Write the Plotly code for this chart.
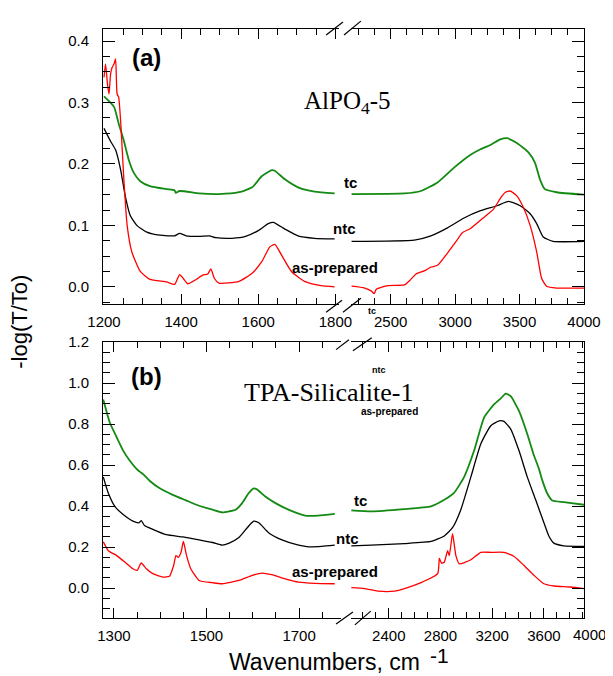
import plotly.graph_objects as go

# ---------------- Panel (a): AlPO4-5 ----------------
# low-wavenumber segment (1200-1800 cm-1)
A_TC_LO_WN = [1200, 1226, 1238, 1251, 1264, 1277, 1294, 1319, 1362, 1383, 1386, 1396, 1447, 1498, 1550, 1584, 1609, 1635, 1643, 1669, 1703, 1746, 1798]
A_TC_LO_V = [0.310, 0.293, 0.266, 0.239, 0.207, 0.186, 0.172, 0.164, 0.159, 0.157, 0.153, 0.156, 0.152, 0.151, 0.154, 0.162, 0.180, 0.190, 0.189, 0.175, 0.162, 0.155, 0.152]
A_NTC_LO_WN = [1200, 1217, 1230, 1243, 1255, 1268, 1285, 1311, 1345, 1383, 1396, 1413, 1447, 1473, 1490, 1532, 1567, 1601, 1626, 1639, 1669, 1703, 1746, 1798]
A_NTC_LO_V = [0.258, 0.237, 0.223, 0.191, 0.148, 0.116, 0.100, 0.089, 0.084, 0.083, 0.087, 0.083, 0.082, 0.083, 0.080, 0.079, 0.082, 0.092, 0.103, 0.105, 0.094, 0.083, 0.079, 0.078]
A_AP_LO_WN = [1200, 1204, 1209, 1213, 1217, 1221, 1226, 1230, 1234, 1238, 1244, 1251, 1260, 1272, 1294, 1319, 1362, 1383, 1396, 1405, 1417, 1439, 1456, 1469, 1477, 1486, 1498, 1550, 1584, 1609, 1630, 1643, 1660, 1686, 1720, 1763, 1798]
A_AP_LO_V = [0.341, 0.363, 0.330, 0.314, 0.346, 0.357, 0.363, 0.371, 0.314, 0.309, 0.261, 0.180, 0.100, 0.057, 0.025, 0.012, 0.008, 0.004, 0.020, 0.014, 0.005, 0.012, 0.019, 0.021, 0.029, 0.014, 0.006, 0.009, 0.022, 0.041, 0.065, 0.069, 0.052, 0.025, 0.009, 0.002, 0.000]
# high-wavenumber segment (2200-4000 cm-1)
A_TC_HI_WN = [2197, 2607, 2735, 2864, 2992, 3120, 3197, 3274, 3351, 3402, 3479, 3569, 3620, 3658, 3697, 3787, 4000]
A_TC_HI_V = [0.151, 0.152, 0.156, 0.170, 0.194, 0.215, 0.224, 0.231, 0.240, 0.242, 0.234, 0.219, 0.202, 0.175, 0.159, 0.154, 0.150]
A_NTC_HI_WN = [2197, 2684, 2812, 2941, 3069, 3197, 3325, 3415, 3505, 3582, 3633, 3684, 3761, 4000]
A_NTC_HI_V = [0.074, 0.076, 0.083, 0.096, 0.112, 0.124, 0.132, 0.139, 0.132, 0.119, 0.103, 0.081, 0.074, 0.074]
A_AP_HI_WN = [2197, 2299, 2351, 2372, 2389, 2479, 2607, 2646, 2697, 2761, 2812, 2864, 2941, 3005, 3056, 3120, 3223, 3300, 3351, 3390, 3428, 3479, 3530, 3582, 3633, 3671, 3710, 3787, 4000]
A_AP_HI_V = [0.001, -0.002, -0.007, -0.011, -0.004, 0.002, 0.003, 0.010, 0.021, 0.026, 0.032, 0.035, 0.055, 0.073, 0.088, 0.095, 0.113, 0.127, 0.144, 0.154, 0.156, 0.148, 0.129, 0.100, 0.057, 0.014, 0.001, -0.002, -0.002]

# ---------------- Panel (b): TPA-Silicalite-1 ----------------
B_TC_LO_WN = [1277, 1291, 1306, 1320, 1334, 1352, 1359, 1363, 1377, 1399, 1427, 1456, 1484, 1513, 1534, 1549, 1563, 1577, 1591, 1602, 1609, 1627, 1649, 1677, 1713, 1741, 1777]
B_TC_LO_V = [0.920, 0.808, 0.736, 0.671, 0.623, 0.575, 0.563, 0.556, 0.524, 0.487, 0.455, 0.428, 0.402, 0.383, 0.370, 0.375, 0.383, 0.415, 0.463, 0.487, 0.482, 0.447, 0.415, 0.383, 0.354, 0.354, 0.362]
B_NTC_LO_WN = [1277, 1288, 1302, 1320, 1341, 1354, 1359, 1366, 1384, 1413, 1449, 1484, 1513, 1534, 1549, 1570, 1588, 1602, 1613, 1634, 1663, 1699, 1720, 1749, 1777]
B_NTC_LO_V = [0.543, 0.463, 0.399, 0.359, 0.327, 0.319, 0.330, 0.306, 0.287, 0.261, 0.250, 0.236, 0.223, 0.210, 0.220, 0.247, 0.295, 0.327, 0.319, 0.271, 0.236, 0.210, 0.202, 0.204, 0.210]
B_AP_LO_WN = [1277, 1288, 1306, 1324, 1341, 1350, 1359, 1370, 1384, 1406, 1420, 1429, 1434, 1439, 1445, 1450, 1457, 1466, 1484, 1513, 1534, 1570, 1599, 1620, 1641, 1670, 1699, 1734, 1777]
B_AP_LO_V = [0.226, 0.183, 0.159, 0.127, 0.095, 0.087, 0.123, 0.095, 0.071, 0.054, 0.059, 0.111, 0.159, 0.151, 0.175, 0.228, 0.159, 0.095, 0.038, 0.027, 0.022, 0.038, 0.063, 0.074, 0.066, 0.046, 0.030, 0.024, 0.022]
B_TC_HI_WN = [2110, 2264, 2521, 2726, 2829, 2906, 2983, 3060, 3137, 3214, 3266, 3304, 3343, 3407, 3471, 3523, 3561, 3587, 3625, 3664, 3754, 3910]
B_TC_HI_V = [0.380, 0.375, 0.386, 0.399, 0.431, 0.466, 0.543, 0.671, 0.832, 0.896, 0.925, 0.949, 0.936, 0.864, 0.752, 0.647, 0.583, 0.527, 0.463, 0.428, 0.420, 0.407]
B_NTC_HI_WN = [2110, 2264, 2521, 2726, 2829, 2893, 2957, 3035, 3112, 3189, 3253, 3291, 3343, 3407, 3471, 3536, 3600, 3638, 3677, 3754, 3910]
B_NTC_HI_V = [0.207, 0.210, 0.218, 0.228, 0.255, 0.295, 0.383, 0.543, 0.704, 0.792, 0.816, 0.813, 0.776, 0.671, 0.543, 0.431, 0.319, 0.255, 0.220, 0.207, 0.204]
B_AP_HI_WN = [2110, 2213, 2315, 2444, 2521, 2649, 2778, 2791, 2808, 2829, 2855, 2868, 2893, 2919, 2945, 3035, 3112, 3189, 3291, 3369, 3446, 3523, 3600, 3677, 3805, 3910]
B_AP_HI_V = [0.003, -0.002, -0.014, -0.014, -0.002, 0.027, 0.071, 0.146, 0.122, 0.127, 0.183, 0.159, 0.266, 0.159, 0.119, 0.139, 0.175, 0.175, 0.175, 0.155, 0.111, 0.063, 0.022, 0.011, 0.006, -0.002]

GREEN = "#138a13"
BLACK = "#000000"
RED = "#ff0000"

# page body has an 8px margin, so the figure is offset by 8px
OFF = 8
W, H = 613 - OFF, 676 - OFF
L, R, T, B = 103, 588, 21, 618   # plot-area edges in window pixels


def px(x):
    return (x - L) / (R - L)


def py(y):
    return (B - y) / (B - T)


fig = go.Figure()

series = [
    ("x", "y", A_TC_LO_WN, A_TC_LO_V, GREEN, 1.8),
    ("x", "y", A_NTC_LO_WN, A_NTC_LO_V, BLACK, 1.3),
    ("x", "y", A_AP_LO_WN, A_AP_LO_V, RED, 1.3),
    ("x2", "y2", A_TC_HI_WN, A_TC_HI_V, GREEN, 1.8),
    ("x2", "y2", A_NTC_HI_WN, A_NTC_HI_V, BLACK, 1.3),
    ("x2", "y2", A_AP_HI_WN, A_AP_HI_V, RED, 1.3),
    ("x3", "y3", B_TC_LO_WN, B_TC_LO_V, GREEN, 1.8),
    ("x3", "y3", B_NTC_LO_WN, B_NTC_LO_V, BLACK, 1.3),
    ("x3", "y3", B_AP_LO_WN, B_AP_LO_V, RED, 1.3),
    ("x4", "y4", B_TC_HI_WN, B_TC_HI_V, GREEN, 1.8),
    ("x4", "y4", B_NTC_HI_WN, B_NTC_HI_V, BLACK, 1.3),
    ("x4", "y4", B_AP_HI_WN, B_AP_HI_V, RED, 1.3),
]
for xa, ya, xs, ys, col, lw in series:
    fig.add_trace(go.Scatter(x=xs, y=ys, xaxis=xa, yaxis=ya, mode="lines",
                             line=dict(color=col, width=lw, shape="spline", smoothing=0.5),
                             showlegend=False, hoverinfo="skip"))

TICKFONT = dict(family="Arial, Liberation Sans, sans-serif", size=15, color="#000")


def xaxis(domain, rng, anchor, tick0, dtick, minor, labels=True):
    return dict(domain=domain, range=rng, anchor=anchor, showgrid=False, zeroline=False,
                showline=True, linecolor="black", linewidth=1, mirror="ticks",
                ticks="inside", ticklen=10, tickwidth=1, tickcolor="black",
                tick0=tick0, dtick=dtick, tickfont=TICKFONT, ticklabelstandoff=4,
                showticklabels=labels,
                minor=dict(ticks="inside", ticklen=6, tickwidth=1, tickcolor="black",
                           dtick=minor, tick0=tick0, showgrid=False))


def yaxis(domain, rng, anchor, dtick, minor, side, labels, fmt):
    return dict(domain=domain, range=rng, anchor=anchor, side=side, showgrid=False,
                zeroline=False, showline=True, linecolor="black", linewidth=1,
                ticks="inside", ticklen=12, tickwidth=1, tickcolor="black",
                tick0=0, dtick=dtick, tickformat=fmt, tickfont=TICKFONT,
                ticklabelstandoff=10, showticklabels=labels,
                minor=dict(ticks="inside", ticklen=7, tickwidth=1, tickcolor="black",
                           dtick=minor, tick0=0, showgrid=False))


A_DOM = [py(300), 1.0]
B_DOM = [0.0, py(338.3)]
A_YR = [-0.0284, 0.4198]
B_YR = [-0.145, 1.2]

fig.update_layout(
    width=W, height=H,
    margin=dict(l=L - OFF, r=613 - R, t=T - OFF, b=676 - B),
    paper_bgcolor="white", plot_bgcolor="white",
    xaxis=xaxis([0, px(341)], [1197.4, 1809.4], "y", 1200, 200, 50),
    xaxis2=xaxis([px(353), 1], [2192, 4000], "y2", 2500, 500, 125),
    xaxis3=xaxis([0, px(343)], [1276.4, 1790.6], "y3", 1300, 200, 50),
    xaxis4=xaxis([px(353), 1], [2107, 3910], "y4", 2400, 400, 100),
    yaxis=yaxis(A_DOM, A_YR, "x", 0.1, 0.025, "left", True, ".1f"),
    yaxis2=yaxis(A_DOM, A_YR, "x2", 0.1, 0.025, "right", False, ".1f"),
    yaxis3=yaxis(B_DOM, B_YR, "x3", 0.2, 0.05, "left", True, ".1f"),
    yaxis4=yaxis(B_DOM, B_YR, "x4", 0.2, 0.05, "right", False, ".1f"),
)

# axis-break marks
breaks = [
    ((328, 27), (345, 14)), ((346, 27), (363, 13)),
    ((328, 308), (344, 296)), ((345, 308), (363, 294)),
    ((338, 346), (351, 336)), ((355, 347), (374, 334)),
    ((338, 624), (355, 612)), ((357, 625), (373, 611)),
]
for (x0, y0), (x1, y1) in breaks:
    fig.add_shape(type="line", xref="paper", yref="paper",
                  x0=px(x0), y0=py(y0), x1=px(x1), y1=py(y1),
                  line=dict(color="black", width=1.2))

ARIAL = "Arial, Liberation Sans, sans-serif"
TIMES = "Times New Roman, Liberation Serif, serif"


def note(text, x, y, size, family=ARIAL, bold=False, angle=0):
    fig.add_annotation(text=text, xref="paper", yref="paper", x=px(x), y=py(y),
                       xanchor="center", yanchor="middle", showarrow=False,
                       textangle=angle,
                       font=dict(family=family, size=size, color="black",
                                 weight="bold" if bold else "normal"))


note("(a)", 147, 50, 24, bold=True)
note("AlPO<sub>4</sub>-5", 350, 95, 25, family=TIMES)
note("tc", 353, 177, 15, bold=True)
note("ntc", 347, 223, 15, bold=True)
note("as-prepared", 337, 263, 15, bold=True)
note("tc", 374, 307, 9, bold=True)

note("(b)", 147, 373, 24, bold=True)
note("TPA-Silicalite-1", 330, 389, 26, family=TIMES)
note("ntc", 381, 367, 9, bold=True)
note("as-prepared", 392, 409, 10, bold=True)
note("tc", 363, 499, 15, bold=True)
note("ntc", 350, 537, 15, bold=True)
note("as-prepared", 337, 571, 15, bold=True)

note("4000", 594, 635, 15)
note("-log(T/To)", 18, 318, 22, angle=-90)
note("Wavenumbers, cm", 326, 663, 23)
note("-1", 442, 656, 21)

fig.write_html("out.html")
